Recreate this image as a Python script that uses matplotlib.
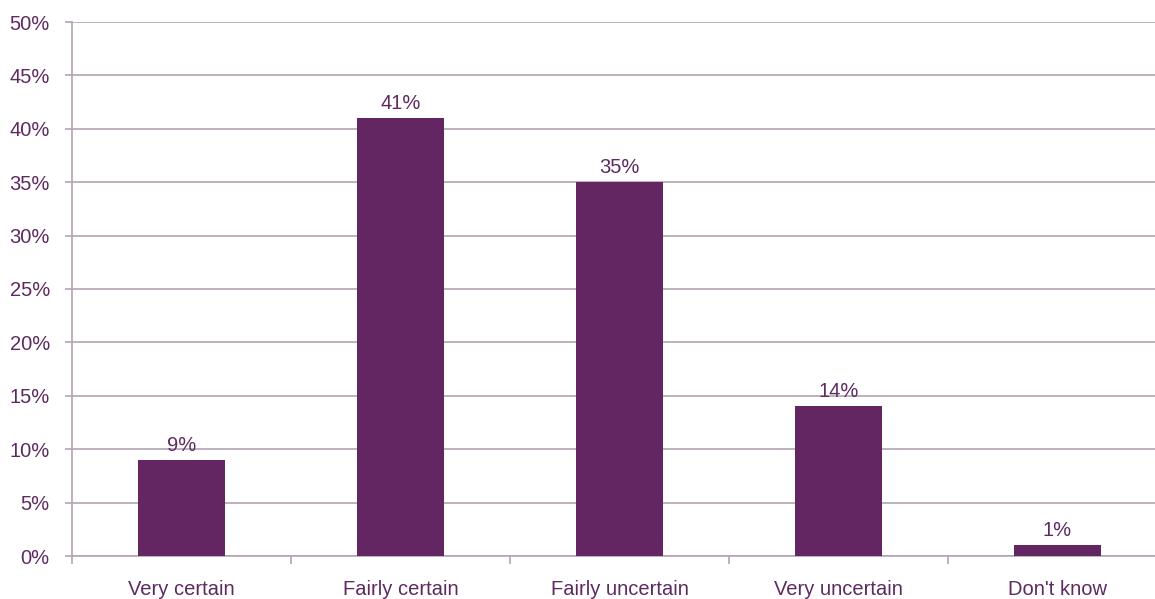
import matplotlib.pyplot as plt
import numpy as np

categories = ["Very certain", "Fairly certain", "Fairly uncertain", "Very uncertain", "Don't know"]
values = [9, 41, 35, 14, 1]
yticks = [0, 5, 10, 15, 20, 25, 30, 35, 40, 45, 50]

bar_color = "#632663"
text_color = "#5e2a61"
grid_color = "#b3a4b3"

plt.rcParams['font.family'] = ['Liberation Sans', 'DejaVu Sans']

fig = plt.figure(figsize=(11.55, 5.99), dpi=100)
# axes runs a little past the right edge, like the cropped original
ax = fig.add_axes([72 / 1155, 43 / 599, 1095 / 1155, 534 / 599])

x = np.arange(len(categories))
ax.bar(x, values, width=0.4, color=bar_color, zorder=3)

for xi, v in zip(x, values):
    ax.text(xi, v + 0.5, f"{v}%", ha='center', va='bottom', fontsize=14.5, color=text_color)

ax.set_xlim(-0.5, len(categories) - 0.5)
ax.set_ylim(0, 50)
ax.set_yticks(yticks)
ax.set_yticklabels([f"{t}%" for t in yticks])
ax.yaxis.grid(True, color=grid_color, linewidth=1.2, zorder=0)

ax.set_xticks(x)
ax.set_xticklabels(categories)
ax.set_xticks(np.arange(len(categories) + 1) - 0.5, minor=True)
ax.tick_params(axis='x', which='major', length=0, pad=17, labelsize=14.5, labelcolor=text_color)
ax.tick_params(axis='x', which='minor', length=6, color=grid_color, width=1.2)
ax.tick_params(axis='y', length=5, color=grid_color, width=1.2, labelsize=14.5, labelcolor=text_color, pad=11)

for s in ['top', 'right']:
    ax.spines[s].set_visible(False)
for s in ['left', 'bottom']:
    ax.spines[s].set_color(grid_color)
    ax.spines[s].set_linewidth(1.2)

fig.savefig("out.png", dpi=100)
